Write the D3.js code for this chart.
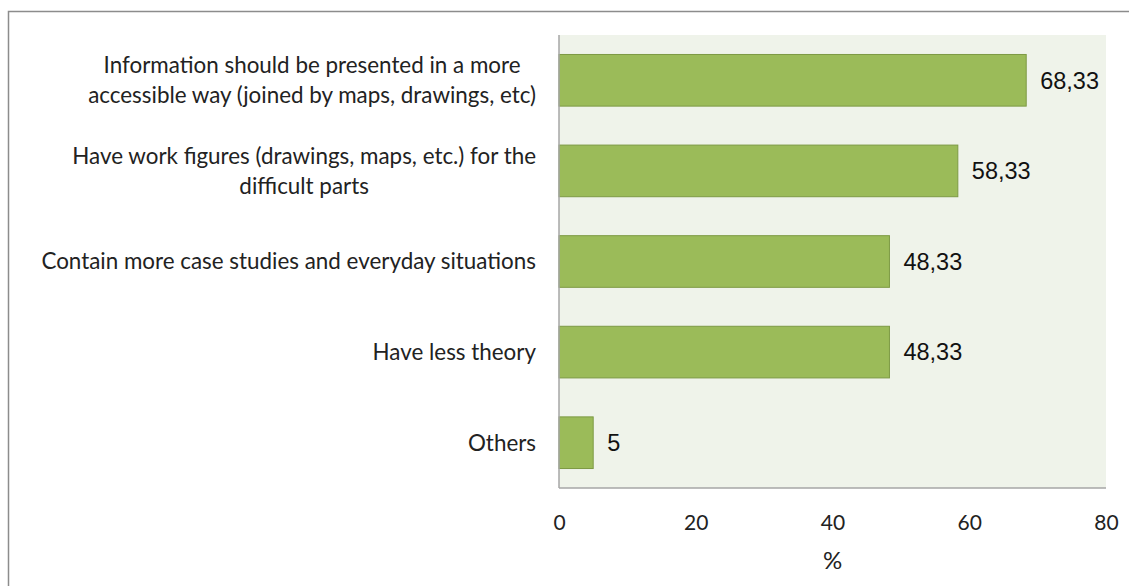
<!DOCTYPE html>
<html>
<head>
<meta charset="utf-8">
<script src="https://cdn.jsdelivr.net/npm/d3@7"></script>
<style>
  body { margin: 0; background: #fff; }
  svg { display: block; }
</style>
</head>
<body>
<div id="chart"></div>
<script>
var categories = [
	["Information should be presented in a more", "accessible way (joined by maps, drawings, etc)"],
	["Have work figures (drawings, maps, etc.) for the", "difficult parts"],
	["Contain more case studies and everyday situations"],
	["Have less theory"],
	["Others"]
];
var values = [68.33, 58.33, 48.33, 48.33, 5];
var valueLabels = ["68,33", "58,33", "48,33", "48,33", "5"];
var xTicks = [0, 20, 40, 60, 80];

var W = 1129, H = 586;
var margin = {top: 35, right: 23, bottom: 98, left: 559};
var labelFont = "Lato, 'Open Sans', sans-serif";

var svg = d3.select("#chart").append("svg")
	.attr("width", W)
	.attr("height", H);

// outer frame (runs off the page on the right and bottom)
svg.append("rect")
	.attr("x", 8.5).attr("y", 11.5)
	.attr("width", W + 20).attr("height", H + 20)
	.attr("fill", "none")
	.attr("stroke", "#8c8c8c")
	.attr("stroke-width", 1.5);

var x = d3.scaleLinear()
	.domain([0, 80])
	.range([margin.left, W - margin.right]);

var y = d3.scaleBand()
	.domain(d3.range(values.length))
	.range([margin.top, H - margin.bottom])
	.paddingInner(0.43)
	.paddingOuter(0.215);

// plot area
svg.append("rect")
	.attr("x", x(0)).attr("y", margin.top)
	.attr("width", x(80) - x(0))
	.attr("height", H - margin.bottom - margin.top)
	.attr("fill", "#eff3ea");

svg.selectAll("rect.bar")
	.data(values)
	.enter().append("rect")
	.attr("class", "bar")
	.attr("x", x(0))
	.attr("y", function(d, i) { return y(i); })
	.attr("width", function(d) { return x(d) - x(0); })
	.attr("height", y.bandwidth())
	.attr("fill", "#9bbb59")
	.attr("stroke", "#7d9a44")
	.attr("stroke-width", 1);

// axis lines
svg.append("line")
	.attr("x1", x(0)).attr("x2", x(0))
	.attr("y1", margin.top).attr("y2", H - margin.bottom)
	.attr("stroke", "#a6a6a6").attr("stroke-width", 1.5);
svg.append("line")
	.attr("x1", x(0)).attr("x2", x(80))
	.attr("y1", H - margin.bottom).attr("y2", H - margin.bottom)
	.attr("stroke", "#a6a6a6").attr("stroke-width", 1.5);

// x axis tick labels
var xAxis = svg.append("g")
	.attr("transform", "translate(0," + (H - margin.bottom) + ")")
	.call(d3.axisBottom(x).tickValues(xTicks).tickSize(0).tickPadding(27));
xAxis.select(".domain").remove();
xAxis.selectAll("text")
	.attr("font-family", labelFont)
	.attr("font-size", 21)
	.attr("fill", "#222");

svg.append("text")
	.attr("x", (x(0) + x(80)) / 2)
	.attr("y", 569)
	.attr("text-anchor", "middle")
	.attr("font-family", labelFont)
	.attr("font-size", 24)
	.attr("fill", "#222")
	.text("%");

// value labels
svg.selectAll("text.val")
	.data(values)
	.enter().append("text")
	.attr("class", "val")
	.attr("x", function(d) { return x(d) + 14; })
	.attr("y", function(d, i) { return y(i) + y.bandwidth() / 2; })
	.attr("dy", "0.35em")
	.attr("font-family", "'Liberation Sans', Arial, sans-serif")
	.attr("font-size", 23.5)
	.attr("fill", "#111")
	.text(function(d, i) { return valueLabels[i]; });

// category labels: block right-aligned, lines centred
var lineH = 30;
var right = x(0) - 23;
categories.forEach(function(lines, i) {
	var g = svg.append("g");
	var cy = y(i) + y.bandwidth() / 2;
	var texts = lines.map(function(l, j) {
		return g.append("text")
			.attr("y", cy + (j - (lines.length - 1) / 2) * lineH)
			.attr("dy", "0.35em")
			.attr("text-anchor", "middle")
			.attr("font-family", labelFont)
			.attr("font-size", 22.4)
			.attr("fill", "#222")
			.text(l);
	});
	var maxW = d3.max(texts, function(t) { return t.node().getComputedTextLength(); });
	texts.forEach(function(t) { t.attr("x", right - maxW / 2); });
});
</script>
</body>
</html>
